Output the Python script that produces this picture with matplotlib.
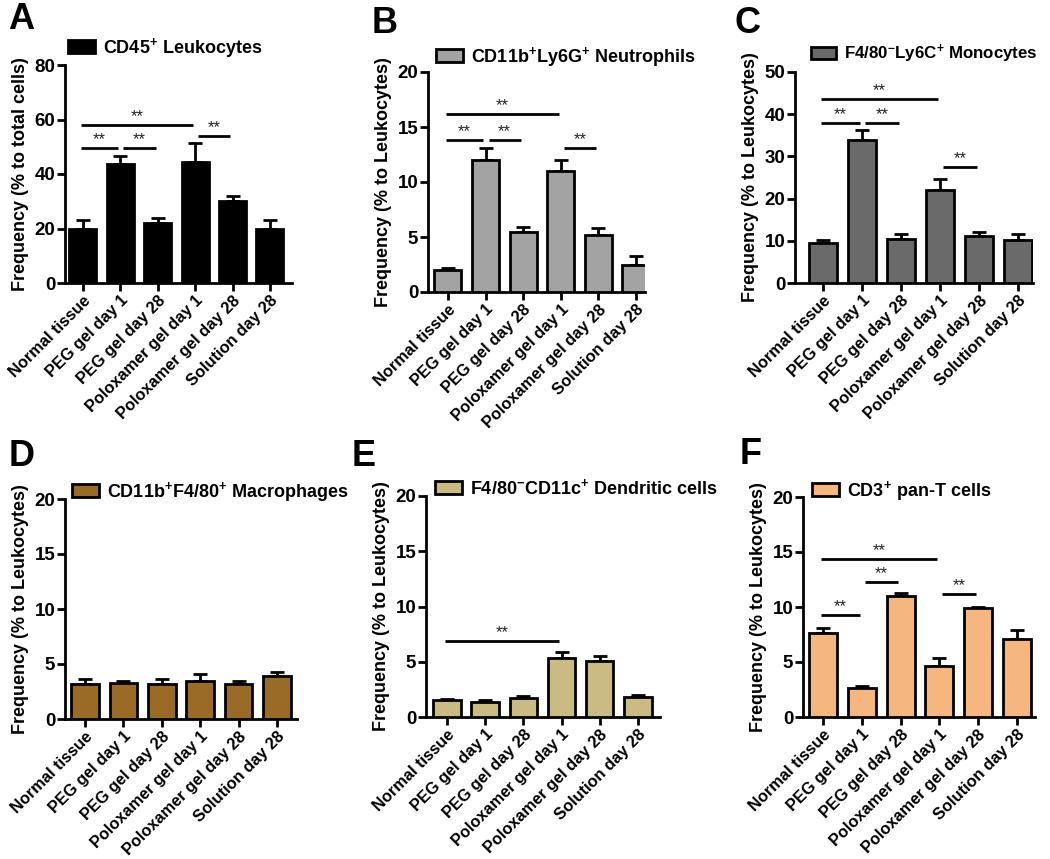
import numpy as np
import matplotlib
matplotlib.use("Agg")
import matplotlib.pyplot as plt

plt.rcParams['font.family'] = ['Liberation Sans', 'DejaVu Sans']
plt.rcParams['font.weight'] = 'bold'
plt.rcParams['mathtext.fontset'] = 'custom'
plt.rcParams['mathtext.rm'] = 'Liberation Sans:bold'
plt.rcParams['mathtext.bf'] = 'Liberation Sans:bold'
plt.rcParams['mathtext.it'] = 'Liberation Sans:bold'

groups = ["Normal tissue", "PEG gel day 1", "PEG gel day 28",
          "Poloxamer gel day 1", "Poloxamer gel day 28", "Solution day 28"]

# mean values and upper error (SD)
leuko = [20.0, 43.5, 22.0, 44.5, 30.0, 20.0]
leuko_err = [3.0, 3.0, 1.8, 7.0, 2.0, 3.0]
neutro = [2.0, 12.0, 5.5, 11.0, 5.2, 2.5]
neutro_err = [0.2, 1.1, 0.4, 1.0, 0.6, 0.8]
mono = [9.5, 34.0, 10.5, 22.0, 11.2, 10.2]
mono_err = [0.8, 2.3, 1.0, 2.7, 0.8, 1.5]
macro = [3.2, 3.3, 3.2, 3.5, 3.2, 3.9]
macro_err = [0.4, 0.2, 0.4, 0.6, 0.3, 0.4]
dendri = [1.5, 1.4, 1.7, 5.3, 5.1, 1.8]
dendri_err = [0.15, 0.1, 0.2, 0.6, 0.4, 0.2]
tcell = [7.6, 2.6, 11.0, 4.6, 9.9, 7.1]
tcell_err = [0.5, 0.2, 0.3, 0.8, 0.1, 0.8]

# significance brackets: (from group, to group, height)
sig_a = [(0, 1, 49.5), (1, 2, 49.5), (0, 3, 58.0), (3, 4, 54.0)]
sig_b = [(0, 1, 13.8), (1, 2, 13.8), (0, 3, 16.2), (3, 4, 13.1)]
sig_c = [(0, 1, 38.0), (1, 2, 38.0), (0, 3, 43.5), (3, 4, 27.5)]
sig_d = []
sig_e = [(0, 3, 6.9)]
sig_f = [(0, 1, 9.3), (1, 2, 12.3), (0, 3, 14.4), (3, 4, 11.2)]

panels = [
    dict(letter="A", vals=leuko, err=leuko_err, sig=sig_a, color="#000000",
         label="CD45$^{+}$ Leukocytes", ylabel="Frequency (% to total cells)",
         ymax=80, step=20, rect=(65, 65, 292, 283), xlim=(-0.48, 5.59),
         leg=(69, 37), let=(8, 2), legsize=13),
    dict(letter="B", vals=neutro, err=neutro_err, sig=sig_b, color="#a3a3a3",
         label="CD11b$^{+}$Ly6G$^{+}$ Neutrophils", ylabel="Frequency (% to Leukocytes)",
         ymax=20, step=5, rect=(428, 72, 645, 292), xlim=(-0.53, 5.24),
         leg=(437, 46), let=(372, 6), legsize=13),
    dict(letter="C", vals=mono, err=mono_err, sig=sig_c, color="#6a6a6a",
         label="F4/80$^{-}$Ly6C$^{+}$ Monocytes", ylabel="Frequency (% to Leukocytes)",
         ymax=50, step=10, rect=(795, 72, 1033, 283), xlim=(-0.72, 5.38),
         leg=(812, 44), let=(735, 6), legsize=12.2),
    dict(letter="D", vals=macro, err=macro_err, sig=sig_d, color="#9a6a27",
         label="CD11b$^{+}$F4/80$^{+}$ Macrophages", ylabel="Frequency (% to Leukocytes)",
         ymax=20, step=5, rect=(65, 499, 297, 719), xlim=(-0.52, 5.52),
         leg=(73, 481), let=(9, 439), legsize=13),
    dict(letter="E", vals=dendri, err=dendri_err, sig=sig_e, color="#c9bb82",
         label="F4/80$^{-}$CD11c$^{+}$ Dendritic cells", ylabel="Frequency (% to Leukocytes)",
         ymax=20, step=5, rect=(426, 496, 660, 717), xlim=(-0.55, 5.58),
         leg=(436, 479), let=(352, 439), legsize=13),
    dict(letter="F", vals=tcell, err=tcell_err, sig=sig_f, color="#f5b680",
         label="CD3$^{+}$ pan-T cells", ylabel="Frequency (% to Leukocytes)",
         ymax=20, step=5, rect=(803, 497, 1035, 717), xlim=(-0.52, 5.47),
         leg=(813, 480), let=(740, 437), legsize=13),
]

W, H = 1050, 859
fig = plt.figure(figsize=(W / 100, H / 100), dpi=100)

for p in panels:
    x0, y0, x1, y1 = p["rect"]
    ax = fig.add_axes([x0 / W, 1 - y1 / H, (x1 - x0) / W, (y1 - y0) / H])
    x = np.arange(len(groups))
    bars = ax.bar(x, p["vals"], width=0.72, color=p["color"], edgecolor="black",
                  linewidth=2, zorder=3, label=p["label"])
    ax.errorbar(x, p["vals"], yerr=[np.zeros(len(x)), p["err"]], fmt="none",
                ecolor="black", elinewidth=2, capsize=5, capthick=2, zorder=2)

    ends = [j for _, j, _ in p["sig"]]
    for i, j, yv in p["sig"]:
        xs = i + 0.08 if i in ends else i - 0.06
        xe = j - 0.06
        ax.plot([xs, xe], [yv, yv], color="black", lw=2, solid_capstyle="butt",
                clip_on=False)
        ax.text((xs + xe) / 2, yv + p["ymax"] * 0.004, "**", ha="center", va="bottom",
                fontsize=12, fontweight="normal", color="#222222")

    ax.set_xlim(*p["xlim"])
    ax.set_ylim(0, p["ymax"])
    ax.set_yticks(np.arange(0, p["ymax"] + 1, p["step"]))
    ax.set_xticks(x)
    ax.set_xticklabels(groups, rotation=45, ha="right", rotation_mode="anchor",
                       fontsize=11.8, fontweight="bold")
    for t in ax.get_yticklabels():
        t.set_fontsize(13.5)
        t.set_fontweight("bold")
    ax.tick_params(direction="out", length=6, width=2, pad=1)
    ax.tick_params(axis="y", pad=1)
    for s in ["top", "right"]:
        ax.spines[s].set_visible(False)
    for s in ["left", "bottom"]:
        ax.spines[s].set_linewidth(2)
    ax.set_ylabel(p["ylabel"], fontsize=13, fontweight="bold", labelpad=4)

    lx, ly = p["leg"]
    fig.legend(handles=[bars], labels=[p["label"]], loc="upper left",
               bbox_to_anchor=((lx - 8) / W, 1 - (ly - 8) / H), frameon=False,
               handlelength=1.5, handleheight=0.72, handletextpad=0.45,
               prop=dict(size=p["legsize"], weight="bold"), borderaxespad=0)

    fig.text(p["let"][0] / W, 1 - p["let"][1] / H, p["letter"], fontsize=26,
             fontweight="bold", ha="left", va="top")

fig.savefig("out.png", dpi=100)
